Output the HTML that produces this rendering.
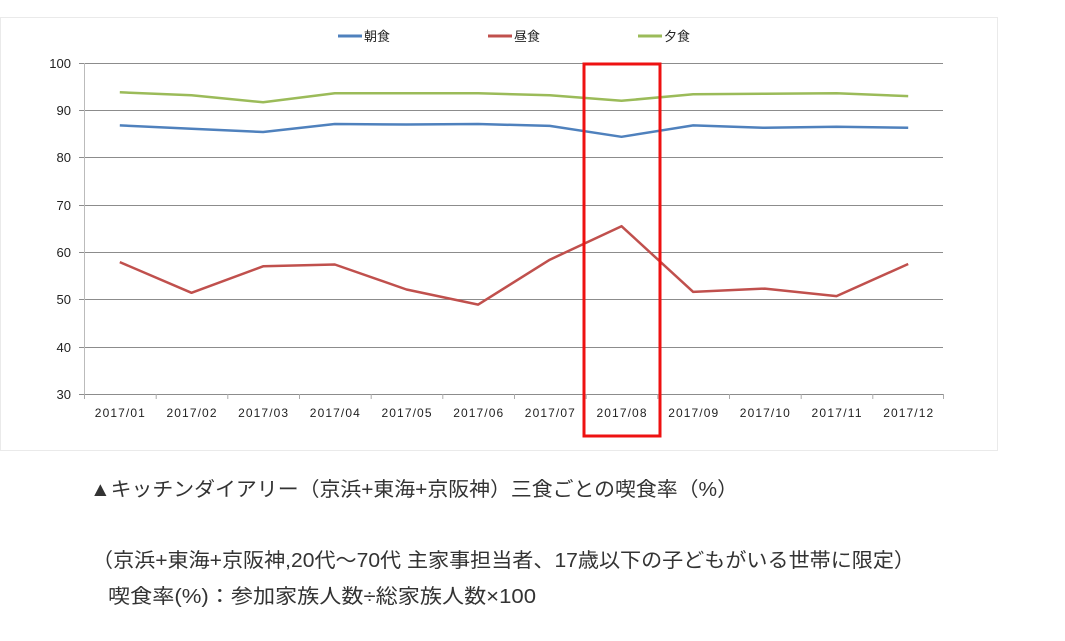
<!DOCTYPE html>
<html><head><meta charset="utf-8"><style>
body{margin:0;background:#fff;width:1065px;height:641px;overflow:hidden;font-family:"Liberation Sans","Noto Sans CJK JP",sans-serif}
</style></head><body>
<svg width="1065" height="641" xmlns="http://www.w3.org/2000/svg" style="position:absolute;left:0;top:0">
<rect x="0.5" y="17.5" width="997" height="433" fill="#fff" stroke="#eaeaea"/>
<g stroke="#8c8c8c" stroke-width="1">
<line x1="84" y1="63.5" x2="943" y2="63.5"/><line x1="84" y1="110.5" x2="943" y2="110.5"/>
<line x1="84" y1="157.5" x2="943" y2="157.5"/><line x1="84" y1="205.5" x2="943" y2="205.5"/>
<line x1="84" y1="252.5" x2="943" y2="252.5"/><line x1="84" y1="299.5" x2="943" y2="299.5"/>
<line x1="84" y1="347.5" x2="943" y2="347.5"/><line x1="84" y1="394.5" x2="943" y2="394.5"/>
<line x1="84.5" y1="63" x2="84.5" y2="394" stroke="#bbb"/>
<path d="M84.5 394v5M156.2 394v5M227.8 394v5M299.5 394v5M371.2 394v5M442.8 394v5M514.5 394v5M586.2 394v5M657.8 394v5M729.5 394v5M801.2 394v5M872.8 394v5M943.5 394v5" stroke="#aaa"/>
<path d="M79 63.5h5M79 110.5h5M79 157.5h5M79 205.5h5M79 252.5h5M79 299.5h5M79 347.5h5M79 394.5h5"/>
</g>
<g font-size="13" fill="#222" text-anchor="end">
<text x="71" y="68">100</text><text x="71" y="115">90</text><text x="71" y="162">80</text><text x="71" y="210">70</text><text x="71" y="257">60</text><text x="71" y="304">50</text><text x="71" y="352">40</text><text x="71" y="399">30</text>
</g>
<g font-size="12" fill="#222" text-anchor="middle" textLength="50" lengthAdjust="spacing">
<text x="119.8" y="417" textLength="50">2017/01</text><text x="191.5" y="417" textLength="50">2017/02</text><text x="263.1" y="417" textLength="50">2017/03</text><text x="334.8" y="417" textLength="50">2017/04</text><text x="406.5" y="417" textLength="50">2017/05</text><text x="478.2" y="417" textLength="50">2017/06</text><text x="549.8" y="417" textLength="50">2017/07</text><text x="621.5" y="417" textLength="50">2017/08</text><text x="693.2" y="417" textLength="50">2017/09</text><text x="764.8" y="417" textLength="50">2017/10</text><text x="836.5" y="417" textLength="50">2017/11</text><text x="908.2" y="417" textLength="50">2017/12</text>
</g>
<g fill="none" stroke-width="2.5" stroke-linejoin="round">
<polyline stroke="#4f81bd" points="119.8,125.4 191.5,128.7 263.1,132 334.8,124 406.5,124.5 478.2,124 549.8,125.9 621.5,136.8 693.2,125.4 764.8,127.8 836.5,126.8 908.2,127.8"/>
<polyline stroke="#c0504d" points="119.8,262.1 191.5,292.8 263.1,266.3 334.8,264.5 406.5,289.5 478.2,304.6 549.8,259.7 621.5,226.2 693.2,291.9 764.8,288.6 836.5,296.1 908.2,264"/>
<polyline stroke="#9bbb59" points="119.8,92.3 191.5,95.2 263.1,102.3 334.8,93.3 406.5,93.3 478.2,93.3 549.8,95.2 621.5,100.8 693.2,94.2 764.8,93.7 836.5,93.3 908.2,96.1"/>
</g>
<g stroke-width="3">
<line x1="338" y1="36" x2="362" y2="36" stroke="#4f81bd"/>
<line x1="488" y1="36" x2="512" y2="36" stroke="#c0504d"/>
<line x1="638" y1="36" x2="662" y2="36" stroke="#9bbb59"/>
</g>
<g font-size="13" fill="#222">
<text x="364" y="41">朝食</text><text x="514" y="41">昼食</text><text x="664" y="41">夕食</text>
</g>
<rect x="584" y="64" width="76" height="372" fill="none" stroke="#ee1111" stroke-width="3"/>
<g font-size="20" fill="#333" lengthAdjust="spacingAndGlyphs">
<text x="90" y="496" textLength="648" lengthAdjust="spacingAndGlyphs">▲キッチンダイアリー（京浜+東海+京阪神）三食ごとの喫食率（%）</text>
<text x="92" y="567" textLength="823" lengthAdjust="spacingAndGlyphs">（京浜+東海+京阪神,20代～70代 主家事担当者、17歳以下の子どもがいる世帯に限定）</text>
<text x="108" y="603" textLength="428" lengthAdjust="spacingAndGlyphs">喫食率(%)：参加家族人数÷総家族人数×100</text>
</g>
</svg>
</body></html>
